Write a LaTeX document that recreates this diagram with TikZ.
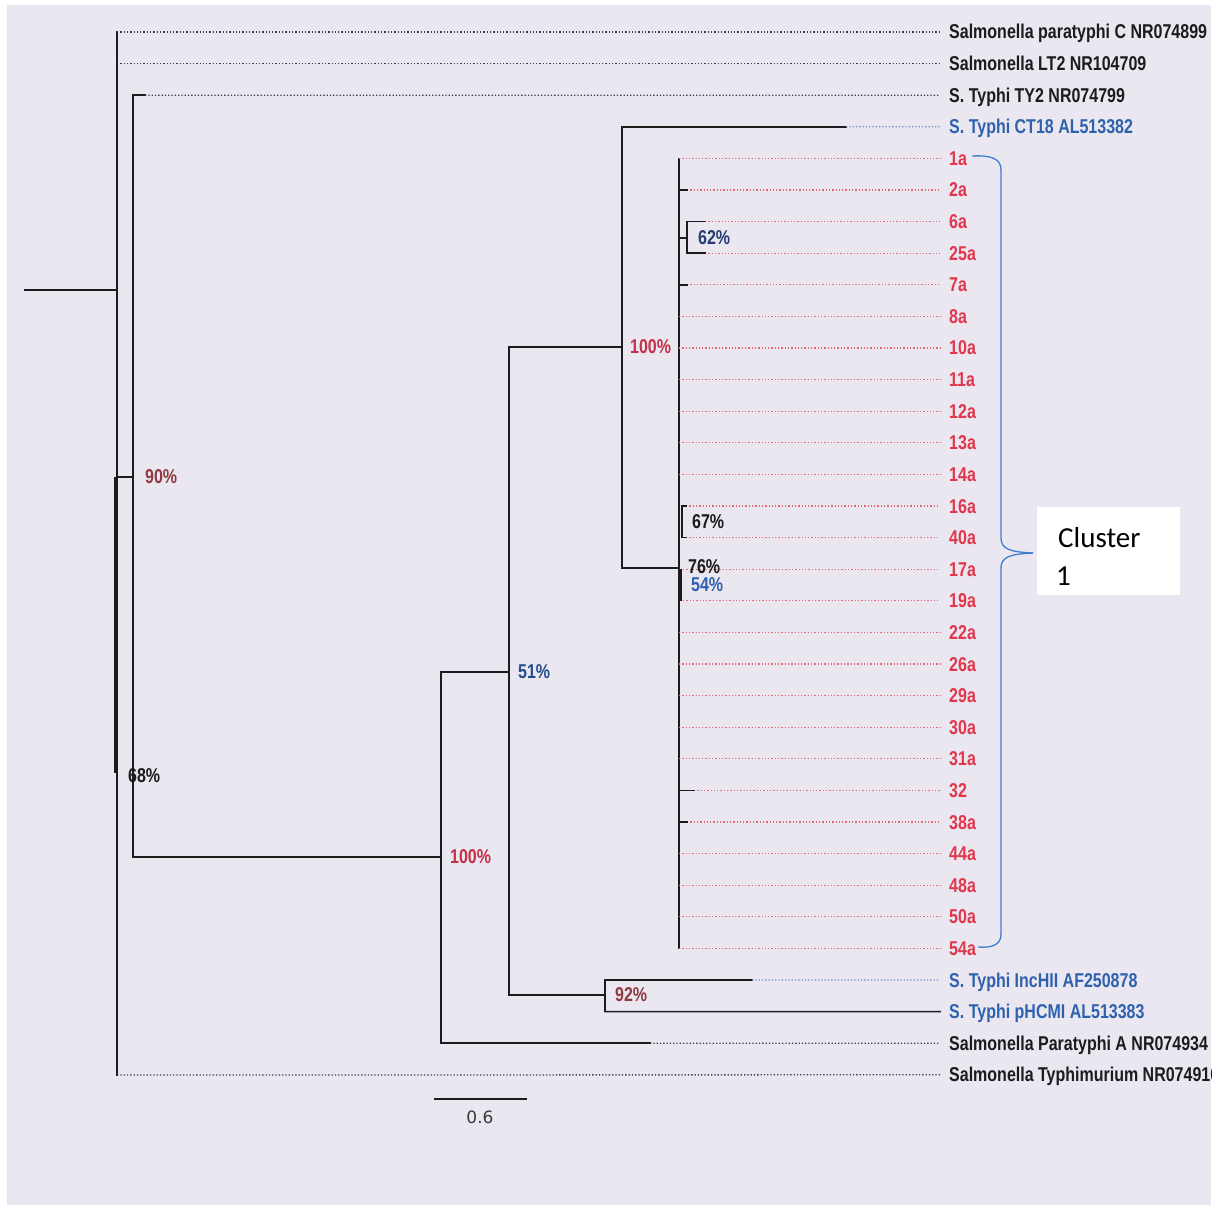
\documentclass[tikz,border=0pt]{standalone}
\usepackage{fontspec}
\setmainfont{Liberation Sans}
\newfontfamily\labf{Liberation Sans Bold}[FakeStretch=0.8]
\newfontfamily\clf{Carlito}
\newfontfamily\scf{DejaVu Sans}
\definecolor{bgc}{HTML}{EAE7F1}
\definecolor{redtxt}{HTML}{E2364C}
\definecolor{reddot}{HTML}{E36A7C}
\definecolor{bluetxt}{HTML}{2F62AE}
\definecolor{bluedot}{HTML}{6F8CC8}
\definecolor{crim}{HTML}{C62F47}
\definecolor{brownr}{HTML}{8E3B3F}
\definecolor{navy}{HTML}{253C70}
\definecolor{bracec}{HTML}{3C7FD0}
\definecolor{ink}{HTML}{1C1C1C}
\begin{document}
\begin{tikzpicture}[x=1pt,y=-1pt,
  br/.style={line width=1.6pt, color=ink, line cap=rect},
  dotk/.style={line width=1.3pt, color=black!75, dash pattern=on 1.3pt off 2pt},
  dotr/.style={line width=1.3pt, color=reddot, dash pattern=on 1.3pt off 2pt},
  dotb/.style={line width=1.3pt, color=bluedot, dash pattern=on 1.3pt off 2pt},
  lab/.style={anchor=base west, inner sep=0pt, font=\labf\fontsize{20}{22}\selectfont},
  pct/.style={anchor=west, inner sep=0pt, font=\labf\fontsize{20}{22}\selectfont},
]
\useasboundingbox (0,0) rectangle (1216,1214);
\fill[white] (0,0) rectangle (1216,1214);
\fill[bgc] (7,5) rectangle (1211,1205);

% tip end coordinates
\foreach \i in {0,...,33} \coordinate (e\i) at (940,{32+31.6*\i});

% internal nodes
\coordinate (stub) at (25,290);
\coordinate (root) at (117,290);
\coordinate (rootT) at (117,32);
\coordinate (rootB) at (117,1075);
\coordinate (r90) at (117,477);
\coordinate (n90) at (133,477);
\coordinate (n90T) at (133,95.2);
\coordinate (n90B) at (133,857);
\coordinate (n100a) at (441,857);
\coordinate (n100aT) at (441,672);
\coordinate (n100aB) at (441,1043.2);
\coordinate (n51) at (509,672);
\coordinate (n51T) at (509,347);
\coordinate (n51B) at (509,995);
\coordinate (n92) at (605,995);
\coordinate (n92T) at (605,980);
\coordinate (n92B) at (605,1011.6);
\coordinate (n100b) at (622,347);
\coordinate (n100bT) at (622,126.8);
\coordinate (n100bB) at (622,568);
\coordinate (nC) at (679,568);
\coordinate (nCT) at (679,158.4);
\coordinate (nCB) at (679,948.4);

% root
\draw[br] (stub) -- (root);
\draw[br] (rootT) -- (rootB);
\draw[line width=3pt, color=ink] (115.5,477) -- (115.5,773);
\draw[dotk] (rootT) -- (e0);
\draw[dotk] (117,63.6) -- (e1);
\draw[dotk] (rootB) -- (e33);
% 90% clade
\draw[br] (r90) -- (n90);
\draw[br] (n90T) -- (n90B);
\draw[br] (n90T) -- (145,95.2);
\draw[dotk] (145,95.2) -- (e2);
\draw[br] (n90B) -- (n100a);
% 100% clade
\draw[br] (n100aT) -- (n100aB);
\draw[br] (n100aB) -- (650,1043.2);
\draw[dotk] (650,1043.2) -- (e32);
\draw[br] (n100aT) -- (n51);
% 51% clade
\draw[br] (n51T) -- (n51B);
\draw[br] (n51B) -- (n92);
\draw[br] (n92T) -- (n92B);
\draw[br] (n92T) -- (752,980);
\draw[dotb] (752,980) -- (e30);
\draw[br] (n92B) -- (e31);
\draw[br] (n51T) -- (n100b);
% 100% inner clade
\draw[br] (n100bT) -- (n100bB);
\draw[br] (n100bT) -- (846,126.8);
\draw[dotb] (846,126.8) -- (e3);
\draw[br] (n100bB) -- (nC);
% cluster
\draw[br] (nCT) -- (nCB);
\foreach \i/\sx in {4/679,5/687,6/705,7/705,8/687,9/679,10/679,11/679,12/679,13/679,14/679,15/686,16/686,17/683,18/683,19/679,20/679,21/679,22/679,23/679,24/694,25/687,26/679,27/679,28/679,29/679}
  \draw[dotr] (\sx,{32+31.6*\i}) -- (e\i);
% ticks
\foreach \i/\ex in {5/687,8/687,24/694,25/687}
  \draw[br] (679,{32+31.6*\i}) -- (\ex,{32+31.6*\i});
% 62%
\coordinate (n62) at (687,238);
\draw[br] (679,238) -- (n62);
\draw[br] (705,221.6) -- (687,221.6) -- (687,253.2) -- (705,253.2);
% 67%
\draw[br] (686,506) -- (682,506) -- (682,537.6) -- (686,537.6);
% 54%
\draw[line width=2.6pt, color=ink] (681,569.2) -- (681,600.8);

% labels
\begin{scope}
\clip (0,0) rectangle (1211,1214);
\node[lab, text=ink] (t0) at (949,{32+31.6*0+7}) {Salmonella paratyphi C NR074899};
\node[lab, text=ink] (t1) at (949,{32+31.6*1+7}) {Salmonella LT2 NR104709};
\node[lab, text=ink] (t2) at (949,{32+31.6*2+7}) {S. Typhi TY2 NR074799};
\node[lab, text=bluetxt] (t3) at (949,{32+31.6*3+7}) {S. Typhi CT18 AL513382};
\foreach \i/\t in {4/1a,5/2a,6/6a,7/25a,8/7a,9/8a,10/10a,11/11a,12/12a,13/13a,14/14a,15/16a,16/40a,17/17a,18/19a,19/22a,20/26a,21/29a,22/30a,23/31a,24/32,25/38a,26/44a,27/48a,28/50a,29/54a}
  \node[lab, text=redtxt] (t\i) at (949,{32+31.6*\i+7}) {\t};
\node[lab, text=bluetxt] (t30) at (949,{32+31.6*30+7}) {S. Typhi IncHII AF250878};
\node[lab, text=bluetxt] (t31) at (949,{32+31.6*31+7}) {S. Typhi pHCMI AL513383};
\node[lab, text=ink] (t32) at (949,{32+31.6*32+7}) {Salmonella Paratyphi A NR074934};
\node[lab, text=ink] (t33) at (949,{32+31.6*33+7}) {Salmonella Typhimurium NR074910};
\end{scope}

% support values
\node[pct, text=brownr] (p90) at (145,477) {90\%};
\node[pct, text=ink] (p68) at (128,776) {68\%};
\node[pct, text=crim] (p100a) at (450,857) {100\%};
\node[pct, text=bluetxt!80!black] (p51) at (518,672) {51\%};
\node[pct, text=brownr] (p92) at (615,995) {92\%};
\node[pct, text=crim] (p100b) at (630,347) {100\%};
\node[pct, text=navy] (p62) at (698,238) {62\%};
\node[pct, text=ink] (p67) at (692,522) {67\%};
\node[pct, text=ink] (p76) at (688,567) {76\%};
\node[pct, text=bluetxt] (p54) at (691,585) {54\%};

% brace
\draw[bracec, line width=1.3pt] (972,156) .. controls (992,155) and (1001,159) .. (1001,170)
  -- (1001,538) .. controls (1001,549) and (1010,552) .. (1033,553);
\draw[bracec, line width=1.3pt] (1033,553) .. controls (1010,554) and (1001,557) .. (1001,568)
  -- (1001,934) .. controls (1001,945) and (992,948) .. (978,947);

% cluster box
\node[fill=white, minimum width=143pt, minimum height=88pt, anchor=north west, inner sep=0pt] (box) at (1037,507) {};
\node[anchor=base west, inner sep=0pt, font=\clf\fontsize{29}{30}\selectfont, text=black] (cl1) at (1058,547) {Cluster};
\node[anchor=base west, inner sep=0pt, font=\clf\fontsize{29}{30}\selectfont, text=black] (cl2) at (1056,585) {1};

% scale bar
\coordinate (sbL) at (434,1099);
\coordinate (sbR) at (527,1099);
\draw[line width=2pt, color=ink] (sbL) -- (sbR);
\node[inner sep=0pt, font=\scf\fontsize{17}{18}\selectfont, text=black!78] (sc) at (480,1117) {0.6};
\end{tikzpicture}
\end{document}
